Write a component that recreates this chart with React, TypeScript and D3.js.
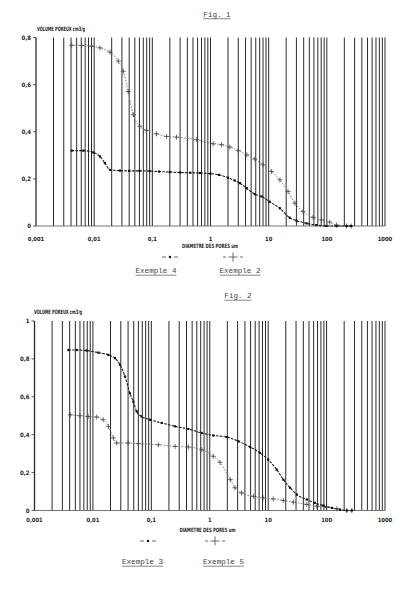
import * as d3 from "d3";

// Fig. 1 — Exemple 4 (dots) and Exemple 2 (crosses)
const fig1Ex4Diam = [0.0041, 0.0065, 0.0097, 0.0126, 0.0153, 0.0187, 0.0277, 0.04, 0.06, 0.09, 0.13, 0.2, 0.3, 0.45, 0.66, 1.0, 1.4, 2.0, 2.6, 3.2, 4.2, 5.8, 7.6, 10.4, 15.6, 23, 30, 45, 66, 98, 147, 218, 262];
const fig1Ex4Vol = [0.32, 0.32, 0.312, 0.295, 0.267, 0.238, 0.235, 0.234, 0.234, 0.233, 0.231, 0.229, 0.227, 0.226, 0.225, 0.222, 0.217, 0.205, 0.193, 0.182, 0.16, 0.135, 0.125, 0.103, 0.075, 0.035, 0.023, 0.011, 0.004, 0, 0, 0, 0];

const fig1Ex2Diam = [0.0041, 0.0061, 0.0091, 0.0126, 0.0187, 0.026, 0.0316, 0.0385, 0.047, 0.061, 0.079, 0.118, 0.176, 0.26, 0.58, 1.11, 1.55, 2.15, 3.0, 4.2, 5.8, 8.05, 11.2, 15.6, 21.6, 28.2, 39, 58, 81, 112, 147, 218, 262];
const fig1Ex2Vol = [0.767, 0.766, 0.763, 0.756, 0.738, 0.7, 0.657, 0.571, 0.472, 0.423, 0.406, 0.391, 0.38, 0.377, 0.366, 0.349, 0.345, 0.335, 0.32, 0.302, 0.284, 0.26, 0.231, 0.196, 0.146, 0.097, 0.061, 0.037, 0.026, 0.016, 0.004, 0, 0];

// Fig. 2 — Exemple 3 (dots) and Exemple 5 (crosses)
const fig2Ex3Diam = [0.0038, 0.0053, 0.0078, 0.0124, 0.0184, 0.0239, 0.0291, 0.0355, 0.043, 0.049, 0.056, 0.068, 0.095, 0.151, 0.255, 0.43, 0.73, 1.15, 1.95, 3.1, 4.9, 7.25, 10, 14, 18.2, 23.7, 30.9, 45.8, 63, 88, 123, 170, 222, 270];
const fig2Ex3Vol = [0.847, 0.847, 0.844, 0.833, 0.821, 0.804, 0.768, 0.707, 0.619, 0.575, 0.523, 0.496, 0.479, 0.462, 0.444, 0.43, 0.409, 0.396, 0.388, 0.365, 0.335, 0.304, 0.268, 0.216, 0.163, 0.12, 0.084, 0.058, 0.04, 0.026, 0.014, 0.005, 0, 0];

const fig2Ex5Diam = [0.0041, 0.006, 0.0083, 0.0116, 0.015, 0.0184, 0.0224, 0.0255, 0.04, 0.06, 0.132, 0.255, 0.43, 0.73, 1.15, 1.5, 2.25, 2.7, 3.5, 5.6, 8.2, 12.2, 18.2, 27, 45.8, 68, 100, 150, 222, 270];
const fig2Ex5Vol = [0.505, 0.5, 0.496, 0.493, 0.479, 0.444, 0.383, 0.356, 0.356, 0.353, 0.347, 0.338, 0.335, 0.321, 0.286, 0.254, 0.163, 0.12, 0.093, 0.075, 0.067, 0.061, 0.053, 0.044, 0.032, 0.023, 0.017, 0.009, 0, 0];

const xTickValues = [0.001, 0.01, 0.1, 1, 10, 100, 1000];
const xTickLabels = ["0,001", "0,01", "0,1", "1", "10", "100", "1000"];
const fig1YTicks = [0, 0.2, 0.4, 0.6, 0.8];
const fig1YLabels = ["0", "0,2", "0,4", "0,6", "0,8"];
const fig2YTicks = [0, 0.2, 0.4, 0.6, 0.8, 1];
const fig2YLabels = ["0", "0,2", "0,4", "0,6", "0,8", "1"];

const plotFont = "'DejaVu Sans Condensed', 'DejaVu Sans', sans-serif";
const typeFont = "'Liberation Mono', 'DejaVu Sans Mono', monospace";

type Series = { diam: number[]; vol: number[]; kind: "dot" | "cross" };

function DotMark({ x, y }: { x: number; y: number }) {
  return <rect x={x - 1.1} y={y - 1.1} width={2.2} height={2.2} fill="#111" />;
}

function CrossMark({ x, y, h = 5, w = 5 }: { x: number; y: number; h?: number; w?: number }) {
  return (
    <g stroke="#444" strokeWidth={0.8}>
      <line x1={x} x2={x} y1={y - h / 2} y2={y + h / 2} />
      <line x1={x - w / 2} x2={x + w / 2} y1={y} y2={y} />
    </g>
  );
}

function Underlined({ x, y, text, size = 7.6 }: { x: number; y: number; text: string; size?: number }) {
  const w = text.length * size * 0.6;
  return (
    <g>
      <text x={x} y={y} textAnchor="middle" fontFamily={typeFont} fontSize={size} fill="#444">
        {text}
      </text>
      <line x1={x - w / 2} x2={x + w / 2} y1={y + 2.2} y2={y + 2.2} stroke="#555" strokeWidth={0.7} />
    </g>
  );
}

interface ChartProps {
  left: number;
  right: number;
  top: number;
  bottom: number;
  yMax: number;
  yTicks: number[];
  yLabels: string[];
  series: Series[];
  title: string;
  titleX: number;
  titleY: number;
  yTitleX: number;
  yTitleY: number;
  xTitleX: number;
  xTitleY: number;
  tickLabelY: number;
  legendSymY: number;
  legendSymX: [number, number];
  legendLabelY: number;
  legendLabelX: [number, number];
  legendNames: [string, string];
}

function Chart(p: ChartProps) {
  const x = d3.scaleLog().domain([0.001, 1000]).range([p.left, p.right]);
  const y = d3.scaleLinear().domain([0, p.yMax]).range([p.bottom, p.top]);
  const grid = x.ticks();

  const line = d3
    .line<[number, number]>()
    .x((d) => x(d[0]))
    .y((d) => y(d[1]))
    .curve(d3.curveMonotoneX);

  return (
    <g>
      <Underlined x={p.titleX} y={p.titleY} text={p.title} />

      {/* vertical log grid */}
      {grid.map((v, i) => (
        <line
          key={i}
          x1={x(v)}
          x2={x(v)}
          y1={p.top}
          y2={p.bottom}
          stroke="#2b2b2b"
          strokeWidth={v === 0.001 ? 1.3 : 1}
        />
      ))}
      {/* x baseline */}
      <line x1={p.left} x2={p.right} y1={p.bottom} y2={p.bottom} stroke="#555" strokeWidth={0.8} />

      {/* y ticks */}
      {p.yTicks.map((t, i) => (
        <g key={i}>
          <line x1={p.left - 3} x2={p.left} y1={y(t)} y2={y(t)} stroke="#333" strokeWidth={0.8} />
          <text
            x={p.left - 5}
            y={y(t) + 2.3}
            textAnchor="end"
            fontFamily={plotFont}
            fontWeight="bold"
            fontSize={6}
            fill="#222"
          >
            {p.yLabels[i]}
          </text>
        </g>
      ))}

      <text
        x={p.yTitleX}
        y={p.yTitleY}
        fontFamily={plotFont}
        fontWeight="bold"
        fontSize={6}
        fill="#222"
        textLength={48}
        lengthAdjust="spacingAndGlyphs"
      >
        VOLUME POREUX cm3/g
      </text>

      {/* x tick labels */}
      {xTickValues.map((v, i) => (
        <text
          key={i}
          x={x(v)}
          y={p.tickLabelY}
          textAnchor="middle"
          fontFamily={plotFont}
          fontWeight="bold"
          fontSize={5.8}
          fill="#222"
        >
          {xTickLabels[i]}
        </text>
      ))}
      <text
        x={p.xTitleX - 28}
        y={p.xTitleY}
        fontFamily={plotFont}
        fontWeight="bold"
        fontSize={5.8}
        fill="#222"
        textLength={56}
        lengthAdjust="spacingAndGlyphs"
      >
        DIAMETRE DES PORES um
      </text>

      {/* curves */}
      {p.series.map((s, si) => {
        const pts = s.diam.map((d, i) => [d, s.vol[i]] as [number, number]);
        return (
          <g key={si}>
            <path
              d={line(pts) || ""}
              fill="none"
              stroke={s.kind === "dot" ? "#1a1a1a" : "#7a7a7a"}
              strokeWidth={s.kind === "dot" ? 1.1 : 0.9}
              strokeDasharray={s.kind === "dot" ? "2.6 1.2" : "1.6 1.4"}
            />
            {pts.map((d, i) =>
              s.kind === "dot" ? (
                <DotMark key={i} x={x(d[0])} y={y(d[1])} />
              ) : (
                <CrossMark key={i} x={x(d[0])} y={y(d[1])} />
              )
            )}
          </g>
        );
      })}

      {/* legend */}
      <g stroke="#444" strokeWidth={0.8}>
        <line x1={p.legendSymX[0] - 8} x2={p.legendSymX[0] - 4} y1={p.legendSymY} y2={p.legendSymY} />
        <line x1={p.legendSymX[0] + 4} x2={p.legendSymX[0] + 8} y1={p.legendSymY} y2={p.legendSymY} />
        <line x1={p.legendSymX[1] - 10} x2={p.legendSymX[1] - 7} y1={p.legendSymY} y2={p.legendSymY} />
        <line x1={p.legendSymX[1] + 7} x2={p.legendSymX[1] + 10} y1={p.legendSymY} y2={p.legendSymY} />
      </g>
      <DotMark x={p.legendSymX[0]} y={p.legendSymY} />
      <CrossMark x={p.legendSymX[1]} y={p.legendSymY} h={9} w={9} />
      <Underlined x={p.legendLabelX[0]} y={p.legendLabelY} text={p.legendNames[0]} />
      <Underlined x={p.legendLabelX[1]} y={p.legendLabelY} text={p.legendNames[1]} />
    </g>
  );
}

export default function App() {
  return (
    <div style={{ position: "absolute", left: 0, top: 0, width: 416, height: 600, background: "#fff" }}>
      <svg width={416} height={600} style={{ display: "block" }}>
        <rect width={416} height={600} fill="#fff" />
        <Chart
          left={36}
          right={385}
          top={37.5}
          bottom={226}
          yMax={0.8}
          yTicks={fig1YTicks}
          yLabels={fig1YLabels}
          series={[
            { diam: fig1Ex2Diam, vol: fig1Ex2Vol, kind: "cross" },
            { diam: fig1Ex4Diam, vol: fig1Ex4Vol, kind: "dot" },
          ]}
          title="Fig. 1"
          titleX={217}
          titleY={16.5}
          yTitleX={37}
          yTitleY={31}
          xTitleX={210}
          xTitleY={247.5}
          tickLabelY={240.5}
          legendSymY={257}
          legendSymX={[170, 233]}
          legendLabelY={273}
          legendLabelX={[156, 240]}
          legendNames={["Exemple 4", "Exemple 2"]}
        />
        <Chart
          left={34.5}
          right={385}
          top={321}
          bottom={510.5}
          yMax={1}
          yTicks={fig2YTicks}
          yLabels={fig2YLabels}
          series={[
            { diam: fig2Ex5Diam, vol: fig2Ex5Vol, kind: "cross" },
            { diam: fig2Ex3Diam, vol: fig2Ex3Vol, kind: "dot" },
          ]}
          title="Fig. 2"
          titleX={238}
          titleY={298}
          yTitleX={34}
          yTitleY={313.5}
          xTitleX={207.5}
          xTitleY={531.5}
          tickLabelY={522}
          legendSymY={541}
          legendSymX={[148, 215]}
          legendLabelY={564}
          legendLabelX={[142.5, 223.5]}
          legendNames={["Exemple 3", "Exemple 5"]}
        />
      </svg>
    </div>
  );
}
